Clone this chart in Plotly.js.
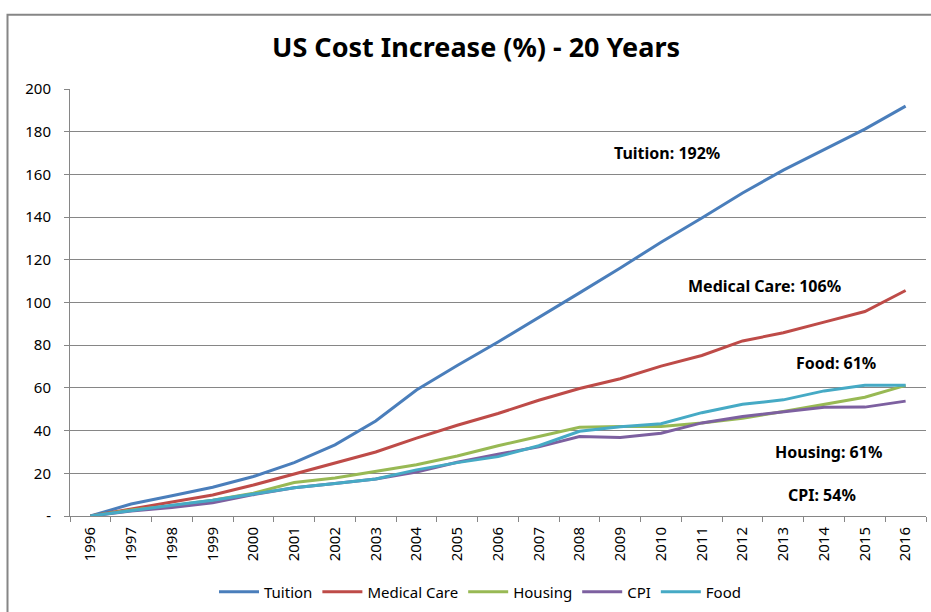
<!DOCTYPE html>
<html>
<head>
<meta charset="utf-8">
<script src="https://cdn.plot.ly/plotly-3.0.1.min.js"></script>
<style>
html,body{margin:0;padding:0;background:#fff;}
#chart{width:931px;height:612px;}
</style>
</head>
<body>
<div id="chart"></div>
<script>
var years = ["1996","1997","1998","1999","2000","2001","2002","2003","2004","2005","2006","2007","2008","2009","2010","2011","2012","2013","2014","2015","2016"];
var tuition = [0,5.6,9.5,13.5,18.5,25,33.3,44.5,59,70.5,81.5,92.8,104.5,116.2,128.2,139.6,151.3,162,171.5,181.2,192];
var medical = [0,3.3,6.4,9.8,14.5,19.6,25,30,36.5,42.5,48,54.2,59.7,64.3,70.2,75.2,82,85.8,90.8,95.8,105.6];
var housing = [0,2.8,4.8,7.4,10.7,15.7,17.8,20.8,24,28.1,32.9,37.2,41.6,41.9,41.9,43.6,45.8,48.9,52.3,55.6,61.2];
var cpi = [0,2.3,4.0,6.2,10.0,13.2,15.2,17.3,20.6,25.2,28.9,32.4,37.2,36.8,38.8,43.6,46.6,48.8,50.9,51,53.8];
var food = [0,2.6,5.0,7.4,10.4,13.2,15.2,17.3,21.6,25,27.8,32.9,39.7,41.8,43.2,48.4,52.3,54.4,58.6,61.2,61.2];

var seriesNames = ["Tuition","Medical Care","Housing","CPI","Food"];
var seriesData = [tuition, medical, housing, cpi, food];
var seriesColors = ["#4A7EBB","#BE4B48","#98B954","#7D60A0","#46AAC5"];

var yTickVals = [0,20,40,60,80,100,120,140,160,180,200];
var yTickText = ["-","20","40","60","80","100","120","140","160","180","200"];

var labelTexts = ["Tuition: 192%","Medical Care: 106%","Food: 61%","Housing: 61%","CPI: 54%"];
var labelX = [14.15,16.55,18.3,18.1,17.95];
var labelY = [170,107.5,71.5,29.9,9.8];

var FONT = "Noto Sans, sans-serif";

var traces = seriesNames.map(function(n,i){
  return {
    x: years, y: seriesData[i], name: n, type: "scatter", mode: "lines",
    line: {color: seriesColors[i], width: 3}
  };
});

var annotations = labelTexts.map(function(t,i){
  return {x: labelX[i], y: labelY[i], xref: "x", yref: "y", text: "<b>"+t+"</b>",
    showarrow: false, font: {family: FONT, size: 16, color: "#000"}};
});

var layout = {
  width: 931, height: 612,
  margin: {l: 70, r: 5, t: 89, b: 95},
  paper_bgcolor: "#fff", plot_bgcolor: "#fff",
  font: {family: FONT, color: "#000"},
  title: {text: "<b>US Cost Increase (%) - 20 Years</b>", x: 476/931, xanchor: "center",
    y: 1 - 48/612, yanchor: "middle", yref: "container",
    font: {family: FONT, size: 27, color: "#000"}},
  xaxis: {type: "category", range: [-0.5, 20.5], tickson: "boundaries",
    ticks: "outside", ticklen: 5, tickcolor: "#868686", showgrid: false,
    showline: true, linecolor: "#868686", linewidth: 1, tickangle: -90,
    ticklabelstandoff: 4,
    tickfont: {family: FONT, size: 15, color: "#000"}, zeroline: false, fixedrange: true},
  yaxis: {range: [0, 200], tickvals: yTickVals, ticktext: yTickText,
    ticks: "outside", ticklen: 5, tickcolor: "#868686", showgrid: true,
    gridcolor: "#868686", gridwidth: 1, showline: true, linecolor: "#868686",
    linewidth: 1, zeroline: false, ticklabelstandoff: 10,
    tickfont: {family: FONT, size: 15, color: "#000"}, fixedrange: true},
  showlegend: true,
  legend: {orientation: "h", x: (480-70)/856, xanchor: "center", y: -0.175, yanchor: "middle",
    font: {family: FONT, size: 15, color: "#000"}, itemwidth: 40, tracegroupgap: 0},
  annotations: annotations,
  shapes: [{type: "rect", xref: "paper", yref: "paper",
    x0: (7.5-70)/856, x1: (945-70)/856, y0: (517-630)/428, y1: (517-14.5)/428,
    line: {color: "#868686", width: 2}, fillcolor: "rgba(0,0,0,0)", layer: "below"}]
};

Plotly.newPlot("chart", traces, layout, {displayModeBar: false, staticPlot: true});
</script>
</body>
</html>
